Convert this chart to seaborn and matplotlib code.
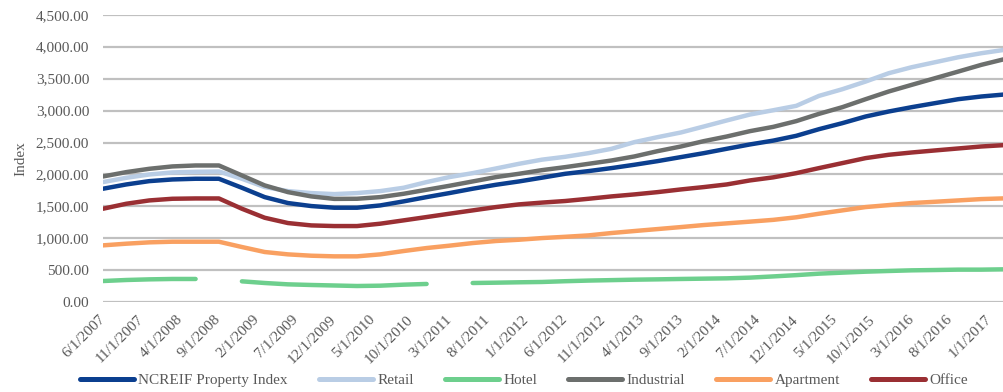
import numpy as np
import pandas as pd
import matplotlib
matplotlib.use("Agg")
import matplotlib.pyplot as plt
import matplotlib.transforms as mtransforms
import seaborn as sns

# ---------------- data ----------------
quarters = pd.date_range("2007-06-01", "2017-03-01", freq="3MS")

ncreif = [1777, 1844, 1896, 1922, 1933, 1933, 1792, 1646, 1553, 1506,
          1480, 1480, 1516, 1579, 1646, 1709, 1777, 1839, 1891, 1950,
          2011, 2053, 2100, 2152, 2209, 2272, 2334, 2402, 2470, 2530,
          2605, 2709, 2803, 2907, 2985, 3053, 3116, 3178, 3220, 3251]
retail = [1881, 1948, 2000, 2032, 2042, 2047, 1933, 1803, 1740, 1709,
          1693, 1709, 1740, 1792, 1881, 1959, 2021, 2094, 2167, 2232,
          2277, 2334, 2402, 2506, 2584, 2657, 2751, 2845, 2938, 3005,
          3074, 3230, 3334, 3454, 3584, 3678, 3756, 3834, 3897, 3949]
hotel = [333, 349, 359, 365, 365, None, 328, 302, 281, 271,
         263, 255, 260, 276, 287, None, 302, 307, 313, 318,
         330, 340, 347, 354, 359, 365, 370, 375, 386, 405,
         425, 448, 464, 479, 490, 500, 505, 511, 511, 516]
industrial = [1969, 2037, 2089, 2126, 2141, 2141, 1985, 1829, 1724, 1657,
              1618, 1620, 1646, 1698, 1761, 1823, 1891, 1959, 2011, 2068,
              2115, 2167, 2219, 2282, 2365, 2438, 2522, 2594, 2678, 2745,
              2835, 2949, 3053, 3178, 3298, 3402, 3506, 3610, 3715, 3803]
apartment = [891, 917, 938, 948, 948, 948, 865, 787, 750, 729,
             719, 719, 750, 802, 849, 886, 927, 959, 979, 1005,
             1025, 1047, 1084, 1115, 1146, 1177, 1209, 1235, 1262, 1290,
             1330, 1386, 1438, 1490, 1521, 1553, 1573, 1594, 1615, 1626]
office = [1464, 1542, 1594, 1620, 1625, 1625, 1464, 1323, 1240, 1203,
          1193, 1193, 1230, 1282, 1334, 1386, 1438, 1490, 1532, 1560,
          1585, 1620, 1657, 1688, 1724, 1766, 1803, 1844, 1907, 1955,
          2021, 2100, 2178, 2256, 2308, 2344, 2376, 2407, 2438, 2459]

series_names = ["NCREIF Property Index", "Retail", "Hotel", "Industrial", "Apartment", "Office"]
series_values = [ncreif, retail, hotel, industrial, apartment, office]
series_colors = ["#0B3F8F", "#B9CDE5", "#6DCF8D", "#6C6F6D", "#F9A061", "#9A2F33"]

tick_labels = ["6/1/2007", "11/1/2007", "4/1/2008", "9/1/2008", "2/1/2009", "7/1/2009",
               "12/1/2009", "5/1/2010", "10/1/2010", "3/1/2011", "8/1/2011", "1/1/2012",
               "6/1/2012", "11/1/2012", "4/1/2013", "9/1/2013", "2/1/2014", "7/1/2014",
               "12/1/2014", "5/1/2015", "10/1/2015", "3/1/2016", "8/1/2016", "1/1/2017"]
y_ticks = [0, 500, 1000, 1500, 2000, 2500, 3000, 3500, 4000, 4500]

# ---------------- plot ----------------
sns.set_theme(style="white")
plt.rcParams["font.family"] = ["Liberation Serif", "DejaVu Serif"]

fig = plt.figure(figsize=(10.04, 3.92), dpi=100)
ax = fig.add_axes([103 / 1004, 1 - 302.3 / 392, (1004 - 103) / 1004, (302.3 - 14.7) / 392])

handles = []
for name, vals, col in zip(series_names, series_values, series_colors):
    df = pd.DataFrame({"date": quarters, "value": pd.array(vals, dtype="Float64").astype(float)})
    # split into contiguous segments so missing quarters show as gaps
    df["seg"] = df["value"].isna().cumsum()
    df = df.dropna()
    for _, seg in df.groupby("seg"):
        sns.lineplot(data=seg, x="date", y="value", ax=ax, color=col, linewidth=3.2,
                     solid_capstyle="round", legend=False, zorder=3)
    handles.append(plt.Line2D([], [], color=col, linewidth=3.6, solid_capstyle="round", label=name))

ax.set_xlim(quarters[0], quarters[-1])
ax.set_ylim(0, 4500)
ax.set_yticks(y_ticks)
ax.set_yticklabels([f"{v:,.2f}" for v in y_ticks])

tick_dates = [pd.Timestamp(f"{s.split('/')[2]}-{int(s.split('/')[0]):02d}-01") for s in tick_labels]
ax.set_xticks(tick_dates)
ax.set_xticklabels(tick_labels, rotation=45, ha="right", va="center", rotation_mode="anchor")
offset = mtransforms.ScaledTranslation(4 / 100, 0, fig.dpi_scale_trans)
for lbl in ax.get_xticklabels():
    lbl.set_transform(lbl.get_transform() + offset)

ax.grid(axis="y", color="#C0C0C0", linewidth=1.6, zorder=0)
ax.grid(axis="x", visible=False)
for s in ax.spines.values():
    s.set_visible(False)
ax.tick_params(axis="both", length=0, labelsize=11, colors="#595959")
ax.tick_params(axis="x", pad=11)
ax.tick_params(axis="y", pad=10)
ax.set_xlabel("")
ax.set_ylabel("Index", fontsize=11, color="#595959", labelpad=6)

fig.legend(handles=handles, loc="center", bbox_to_anchor=(0.522, 1 - 380 / 392),
           ncol=6, frameon=False, fontsize=11, handlelength=3.5, handletextpad=0.3,
           columnspacing=2.05, labelcolor="#595959")

fig.savefig("out.png", dpi=100)
